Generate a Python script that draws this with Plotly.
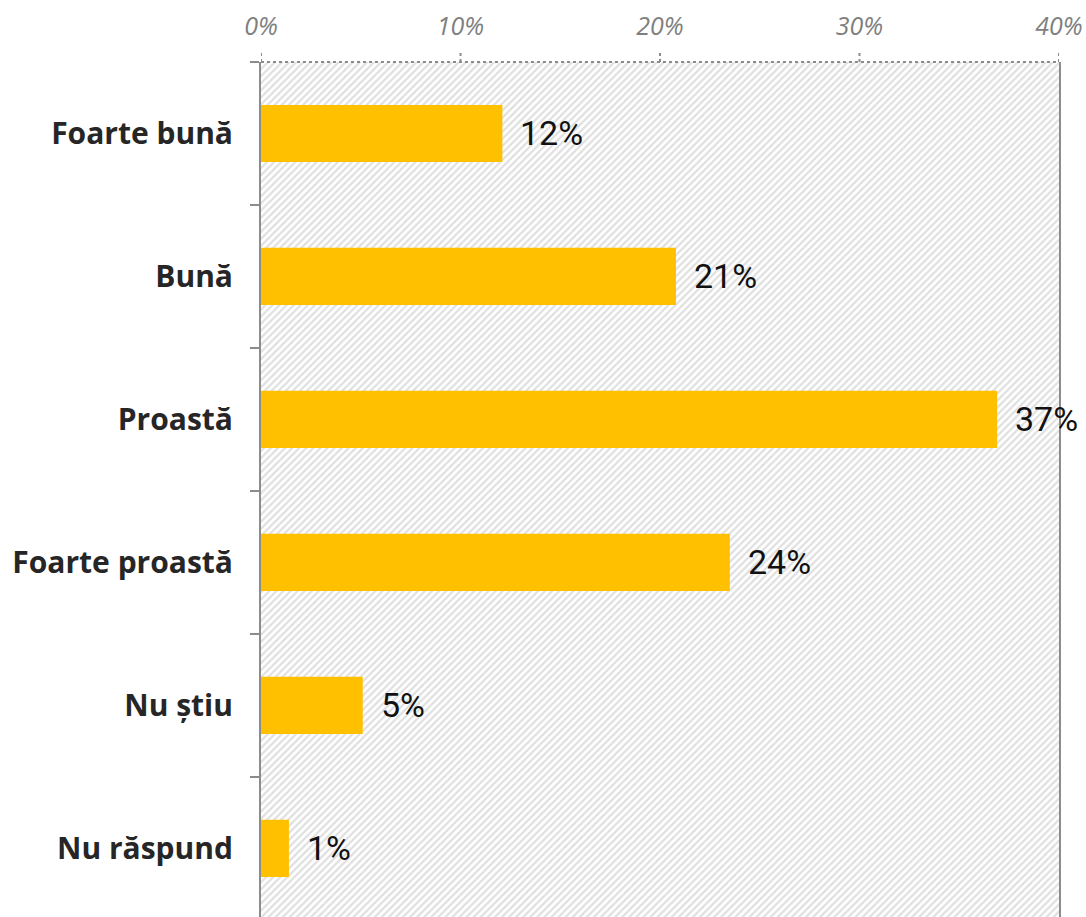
import plotly.graph_objects as go

categories = ["Foarte bună", "Bună", "Proastă", "Foarte proastă", "Nu știu", "Nu răspund"]
values = [12.1, 20.8, 36.9, 23.5, 5.1, 1.4]
value_labels = ["12%", "21%", "37%", "24%", "5%", "1%"]
x_ticks = [0, 10, 20, 30, 40]
x_tick_labels = ["0%", "10%", "20%", "30%", "40%"]

AX = "#8c8c8c"

fig = go.Figure()

# hatched background
fig.add_trace(go.Bar(
    y=categories, x=[x_ticks[-1]] * len(categories), orientation="h", width=1,
    marker=dict(color="white", line=dict(width=0),
                pattern=dict(shape="/", size=5, solidity=0.45, fgcolor="#c0c0c0", bgcolor="white")),
    hoverinfo="skip", showlegend=False,
))

fig.add_trace(go.Bar(
    y=categories, x=values, orientation="h", width=0.4,
    marker=dict(color="#FFC000", line=dict(width=0)),
    hoverinfo="skip", showlegend=False,
))

for c, v, t in zip(categories, values, value_labels):
    fig.add_annotation(x=v, y=c, text=t, showarrow=False, xanchor="left", yanchor="middle",
                       xshift=16, font=dict(family="Roboto", size=34, color="#111111"))

# dotted top axis line and dotted ticks
fig.add_shape(type="line", xref="x", yref="paper", x0=x_ticks[0], x1=x_ticks[-1], y0=1, y1=1,
              line=dict(color=AX, width=2, dash="dot"))
for xv in x_ticks:
    fig.add_shape(type="line", xref="x", yref="paper", ysizemode="pixel", yanchor=1,
                  x0=xv, x1=xv, y0=0, y1=10, line=dict(color=AX, width=2, dash="dot"))

fig.update_layout(
    width=1086, height=917,
    margin=dict(l=261, r=27, t=62, b=0),
    barmode="overlay",
    plot_bgcolor="white", paper_bgcolor="white",
    xaxis=dict(side="top", range=[x_ticks[0], x_ticks[-1]], tickvals=x_ticks, ticktext=x_tick_labels,
               showgrid=False, zeroline=False, showline=False, automargin=False,
               ticks="outside", ticklen=16, tickcolor="rgba(0,0,0,0)",
               tickfont=dict(family="Open Sans", size=25, color="#7f7f7f", style="italic")),
    yaxis=dict(type="category", categoryorder="array", categoryarray=categories,
               range=[5.48, -0.5], tickson="boundaries", ticks="outside", ticklen=9, tickwidth=2,
               tickcolor=AX, showline=True, linecolor=AX, linewidth=2, mirror=True,
               showgrid=False, ticklabelstandoff=20, automargin=False,
               tickfont=dict(family="Open Sans", size=30, color="#262626", weight="bold")),
)

fig.write_html("out.html", config={"displayModeBar": False},
               post_script="document.body.style.margin='0';document.body.style.overflow='hidden';")
